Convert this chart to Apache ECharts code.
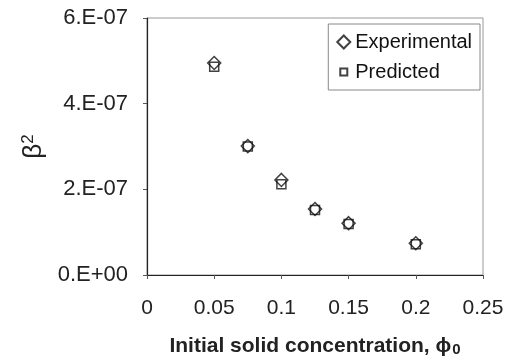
<!DOCTYPE html>
<html>
<head>
<meta charset="utf-8">
<script src="https://cdn.jsdelivr.net/npm/echarts@6/dist/echarts.min.js"></script>
<style>
  html, body { margin: 0; padding: 0; background: #fff; }
  #chart { width: 508px; height: 359px; }
</style>
</head>
<body>
<div id="chart"></div>
<script>
// values
var phi0 = [0.05, 0.075, 0.1, 0.125, 0.15, 0.2];
var experimental = [4.95e-7, 3.01e-7, 2.22e-7, 1.54e-7, 1.21e-7, 0.74e-7];
var predicted = [4.86e-7, 3.0e-7, 2.12e-7, 1.52e-7, 1.19e-7, 0.72e-7];
var xTickLabels = ['0', '0.05', '0.1', '0.15', '0.2', '0.25'];
var yTickLabels = ['0.E+00', '2.E-07', '4.E-07', '6.E-07'];

function pairs(xs, ys) {
  return xs.map(function (x, i) { return [x, ys[i]]; });
}

var chart = echarts.init(document.getElementById('chart'));
var font = 'Liberation Sans, Arial, sans-serif';

var option = {
  animation: false,
  grid: {
    left: 147, right: 25, top: 18, bottom: 84,
    outerBoundsMode: 'none',
    containLabel: false,
    show: true,
    borderColor: '#999',
    borderWidth: 1
  },
  legend: {
    orient: 'vertical',
    right: 28, top: 24,
    width: 150,
    padding: [8, 8, 8, 8],
    borderColor: '#888',
    borderWidth: 1,
    itemGap: 10,
    itemWidth: 13,
    itemHeight: 13,
    textStyle: { fontFamily: font, fontSize: 20, color: '#111' },
    data: [
      { name: 'Experimental', icon: 'diamond' },
      // small square inside a 13x13 box
      { name: 'Predicted', icon: 'path://M0,0M13,13M3,3L10,3L10,10L3,10Z' }
    ]
  },
  xAxis: {
    type: 'value',
    min: 0, max: 0.25, interval: 0.05,
    splitLine: { show: false },
    axisLine: { lineStyle: { color: '#222', width: 1.2 } },
    axisTick: { show: true, length: 4, lineStyle: { color: '#555' } },
    axisLabel: {
      margin: 23,
      fontFamily: font, fontSize: 21, color: '#222',
      formatter: function (v, i) { return xTickLabels[i]; }
    },
    name: 'Initial solid concentration, {phi|ϕ}{sub|0}',
    nameLocation: 'middle',
    nameGap: 61,
    nameTextStyle: {
      fontFamily: font, fontSize: 21, fontWeight: 'bold', color: '#222',
      rich: {
        phi: { fontFamily: font, fontSize: 21, fontWeight: 'bold', color: '#222' },
        sub: { fontFamily: font, fontSize: 15, fontWeight: 'bold', color: '#222', verticalAlign: 'bottom', padding: [6, 0, 0, 1] }
      }
    }
  },
  yAxis: {
    type: 'value',
    min: 0, max: 6e-7, interval: 2e-7,
    splitLine: { show: false },
    axisLine: { show: true, lineStyle: { color: '#222', width: 1.2 } },
    axisTick: { show: true, length: 4, lineStyle: { color: '#555' } },
    axisLabel: {
      margin: 19,
      fontFamily: font, fontSize: 22, color: '#222',
      formatter: function (v, i) { return yTickLabels[i]; }
    },
    name: 'β{sup|2}',
    nameLocation: 'middle',
    nameGap: 96,
    nameRotate: 90,
    nameTextStyle: {
      fontFamily: font, fontSize: 26, color: '#222',
      rich: {
        sup: { fontFamily: font, fontSize: 17, color: '#222', verticalAlign: 'top', padding: [0, 0, 10, 0] }
      }
    }
  },
  series: [
    {
      name: 'Experimental',
      type: 'scatter',
      symbol: 'diamond',
      symbolSize: 13,
      data: pairs(phi0, experimental),
      itemStyle: { color: 'rgba(255,255,255,0)', borderColor: '#111', borderWidth: 1.5 }
    },
    {
      name: 'Predicted',
      type: 'scatter',
      symbol: 'rect',
      symbolSize: 9,
      data: pairs(phi0, predicted),
      itemStyle: { color: 'rgba(255,255,255,0)', borderColor: '#111', borderWidth: 1.5 }
    }
  ]
};

chart.setOption(option);
</script>
</body>
</html>
